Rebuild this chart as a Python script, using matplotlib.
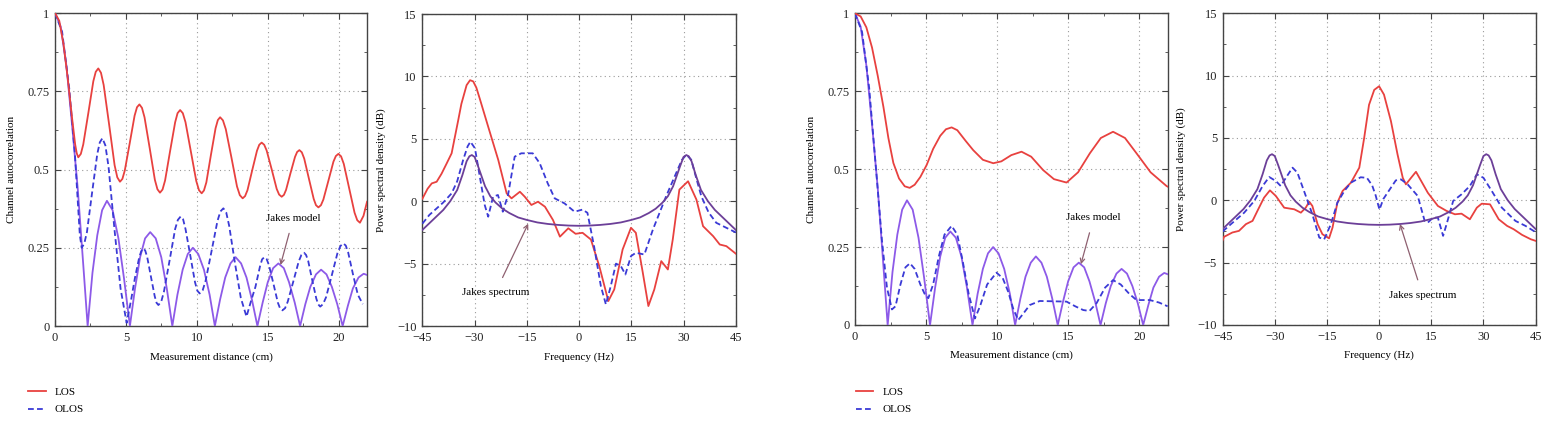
import matplotlib
matplotlib.use("Agg")
import matplotlib.pyplot as plt
from matplotlib.ticker import MultipleLocator
from matplotlib.lines import Line2D

plt.rcParams['font.family'] = ['Liberation Serif', 'DejaVu Serif']
plt.rcParams['font.size'] = 8

# Jakes model |J0| (autocorrelation), same curve in both autocorrelation panels
jakes_d = [0, 0.4, 0.8, 1.2, 1.6, 2.0, 2.3,
           2.64, 2.98, 3.32, 3.66, 4.06, 4.47, 4.87, 5.28,
           5.64, 6.0, 6.35, 6.71, 7.10, 7.49, 7.88, 8.27,
           8.63, 9.0, 9.36, 9.72, 10.1, 10.5, 10.9, 11.27,
           11.64, 12.0, 12.37, 12.73, 13.12, 13.5, 13.88, 14.27,
           14.64, 15.0, 15.38, 15.75, 16.13, 16.5, 16.9, 17.28,
           17.65, 18.0, 18.4, 18.76, 19.14, 19.52, 19.9, 20.28,
           20.65, 21.0, 21.4, 21.76, 22.0]
jakes_r = [1.0, 0.957, 0.833, 0.643, 0.44, 0.19, 0.0,
           0.17, 0.29, 0.37, 0.40, 0.37, 0.28, 0.15, 0.0,
           0.12, 0.22, 0.28, 0.30, 0.28, 0.22, 0.12, 0.0,
           0.10, 0.18, 0.23, 0.25, 0.23, 0.18, 0.10, 0.0,
           0.085, 0.155, 0.20, 0.22, 0.20, 0.155, 0.085, 0.0,
           0.075, 0.14, 0.185, 0.20, 0.185, 0.14, 0.075, 0.0,
           0.07, 0.125, 0.165, 0.18, 0.165, 0.125, 0.07, 0.0,
           0.065, 0.12, 0.155, 0.167, 0.163]

# Jakes spectrum (dB), same curve in both spectrum panels
jakes_f = [-45, -42, -39, -37, -35, -33.5, -32.3, -31.5, -30.8, -30, -29, -28, -27, -25.5, -24,
           -22, -20, -17.5, -15, -12, -9, -6, -3, 0, 3, 6, 9, 12, 15, 17.5, 20, 22,
           24, 25.5, 27, 28, 29, 30, 30.8, 31.5, 32.3, 33.5, 35, 37, 39, 42, 45]
jakes_s = [-2.3, -1.5, -0.7, 0.0, 0.9, 2.1, 3.2, 3.6, 3.7, 3.55, 2.8, 2.0, 1.2, 0.4, -0.1,
           -0.6, -0.95, -1.3, -1.5, -1.7, -1.82, -1.9, -1.95, -1.97, -1.95, -1.9, -1.82, -1.7, -1.5, -1.3, -0.95, -0.6,
           -0.1, 0.4, 1.2, 2.0, 2.8, 3.55, 3.7, 3.6, 3.2, 2.1, 0.9, 0.0, -0.7, -1.5, -2.3]

# scenario A: autocorrelation
a_los_d = [0, 0.3, 0.6, 0.9, 1.2, 1.42, 1.53, 1.64,
           1.82, 1.99, 2.35, 2.70, 2.87, 3.05, 3.24, 3.43, 3.82, 4.20, 4.39, 4.58,
           4.75, 4.92, 5.27, 5.61, 5.78, 5.95, 6.13, 6.31, 6.68, 7.04, 7.22, 7.4,
           7.58, 7.76, 8.11, 8.47, 8.64, 8.82, 9.01, 9.2, 9.58, 9.96, 10.15, 10.34,
           10.5, 10.67, 10.99, 11.32, 11.48, 11.64, 11.84, 12.04, 12.44, 12.83, 13.03, 13.23,
           13.4, 13.57, 13.9, 14.24, 14.4, 14.57, 14.75, 14.92, 15.28, 15.63, 15.8, 15.98,
           16.14, 16.29, 16.6, 16.92, 17.07, 17.23, 17.4, 17.57, 17.9, 18.24, 18.4, 18.57,
           18.75, 18.92, 19.28, 19.63, 19.8, 19.98, 20.17, 20.36, 20.74, 21.12, 21.31, 21.5,
           21.75, 22.0]
a_los_r = [1.0, 0.975, 0.9, 0.79, 0.665, 0.58, 0.552, 0.539,
           0.550, 0.580, 0.681, 0.782, 0.812, 0.823, 0.809, 0.770, 0.642, 0.514, 0.475, 0.461,
           0.470, 0.497, 0.585, 0.672, 0.699, 0.708, 0.697, 0.667, 0.567, 0.467, 0.437, 0.426,
           0.436, 0.465, 0.558, 0.651, 0.680, 0.69, 0.680, 0.651, 0.557, 0.463, 0.434, 0.424,
           0.433, 0.459, 0.546, 0.632, 0.658, 0.667, 0.657, 0.629, 0.538, 0.446, 0.418, 0.408,
           0.415, 0.434, 0.497, 0.560, 0.579, 0.586, 0.579, 0.561, 0.500, 0.438, 0.420, 0.413,
           0.419, 0.435, 0.488, 0.540, 0.556, 0.562, 0.555, 0.535, 0.471, 0.406, 0.386, 0.379,
           0.386, 0.404, 0.465, 0.525, 0.543, 0.55, 0.542, 0.518, 0.44, 0.362, 0.338, 0.33,
           0.352, 0.397]
a_olos_d = [0, 0.5, 1.0, 1.4, 1.75, 1.88, 2.06, 2.25, 2.61, 2.98, 3.16, 3.34, 3.55, 3.77, 4.2, 4.62, 5.05,
            5.35, 5.64, 5.94, 6.08, 6.23, 6.36, 6.5, 6.76, 7.03, 7.16, 7.29, 7.49, 7.68, 8.08, 8.47, 8.66, 8.86,
            9.03, 9.2, 9.53, 9.87, 10.03, 10.2, 10.41, 10.62, 11.04, 11.45, 11.66, 11.87, 12.07, 12.28, 12.69,
            13.1, 13.5, 13.82, 14.13, 14.45, 14.6, 14.76, 14.92, 15.08, 15.4, 15.71, 15.87, 16.03, 16.22,
            16.41, 16.8, 17.18, 17.37, 17.56, 17.7, 17.85, 18.13, 18.42, 18.56, 18.7, 18.9, 19.11, 19.52,
            19.92, 20.13, 20.33, 20.5, 20.67, 21.0, 21.35, 21.7]
a_olos_r = [1.0, 0.94, 0.76, 0.55, 0.29, 0.25, 0.263, 0.30, 0.425, 0.55, 0.587, 0.60, 0.577, 0.51, 0.305, 0.12, 0.01,
            0.08, 0.155, 0.22, 0.239, 0.248, 0.241, 0.22, 0.158, 0.095, 0.074, 0.067, 0.078, 0.11, 0.21, 0.31, 0.339, 0.35,
            0.341, 0.31, 0.227, 0.14, 0.113, 0.104, 0.114, 0.145, 0.24, 0.335, 0.366, 0.376, 0.363, 0.32, 0.20,
            0.09, 0.03, 0.08, 0.125, 0.19, 0.213, 0.22, 0.214, 0.195, 0.135, 0.075, 0.056, 0.05, 0.057,
            0.078, 0.142, 0.206, 0.227, 0.234, 0.227, 0.208, 0.148, 0.088, 0.069, 0.062, 0.07, 0.092, 0.163,
            0.234, 0.256, 0.264, 0.257, 0.235, 0.167, 0.10, 0.07]

# scenario A: spectrum
a_los_f = [-45, -43.5, -42.3, -40.9, -39.5, -38.0, -36.6, -34.7, -33.8, -32.3, -31.3, -30.4, -29.5,
           -28.5, -26.1, -23.2, -20.8, -19.4, -17.0, -15.6, -13.7, -11.8, -9.8, -7.5, -5.5, -3.1,
           -1.0, 1.0, 3.4, 5.8, 8.4, 10.1, 12.5, 14.9, 16.3, 18.3, 19.9, 21.6, 23.6, 25.5, 26.9,
           28.8, 31.3, 33.7, 35.6, 38.5, 40.4, 42.3, 45]
a_los_s = [0.2, 1.0, 1.43, 1.56, 2.2, 3.04, 3.84, 6.5, 7.8, 9.3, 9.7, 9.6, 9.1,
           8.2, 5.97, 3.3, 0.63, 0.23, 0.76, 0.36, -0.3, -0.04, -0.44, -1.5, -2.84, -2.17,
           -2.61, -2.53, -3.07, -5.2, -8.0, -7.07, -3.87, -2.13, -2.53, -5.73, -8.4, -7.07, -4.8, -5.47, -3.07,
           0.93, 1.6, 0.13, -2.0, -2.8, -3.47, -3.6, -4.2]
a_olos_f = [-45, -43, -41.4, -39, -36.6, -35, -33.3, -32, -31.2, -29.9, -28.5, -27.1, -26.1, -24.7,
            -23.3, -21.9, -20.4, -18.5, -16.6, -13.3, -11.3, -9.0, -7.0, -4.2, -1.3, 1.0, 2.4,
            4.3, 6.25, 7.7, 9.1, 10.6, 12.0, 13.3, 14.9, 16.3, 18.75, 21.2, 25.0, 27.9, 29.5,
            30.8, 32.2, 33.6, 35.1, 37.2, 39.4, 42.3, 45]
a_olos_s = [-1.8, -1.1, -0.7, -0.1, 0.63, 1.6, 3.3, 4.4, 4.77, 4.24, 1.96, -0.3, -1.24, 0.36,
            0.5, -0.84, 0.5, 3.57, 3.84, 3.84, 3.04, 1.43, 0.23, -0.17, -0.84, -0.67, -0.93,
            -3.6, -6.8, -8.27, -6.8, -5.0, -5.2, -5.87, -4.4, -4.13, -4.27, -2.27, 0.4, 2.27, 3.3,
            3.73, 3.33, 1.9, 0.4, -0.9, -1.73, -2.13, -2.5]

# scenario B: autocorrelation
b_los_d = [0, 0.4, 0.8, 1.2, 1.6, 2.0, 2.35, 2.7, 3.1, 3.5, 3.85, 4.2, 4.6, 5.04, 5.5, 6.0,
           6.4, 6.8, 7.2, 7.8, 8.32, 9.0, 9.73, 10.3, 11.0, 11.72, 12.4, 13.24, 14.0, 14.89,
           15.7, 16.53, 17.3, 18.16, 19.0, 19.81, 20.8, 21.92, 22.0]
b_los_r = [1.0, 0.99, 0.955, 0.89, 0.80, 0.70, 0.60, 0.52, 0.47, 0.445, 0.44, 0.45, 0.475, 0.513, 0.565, 0.607,
           0.628, 0.634, 0.625, 0.59, 0.561, 0.53, 0.519, 0.525, 0.545, 0.556, 0.54, 0.497, 0.468, 0.457,
           0.49, 0.551, 0.60, 0.62, 0.60, 0.551, 0.49, 0.446, 0.444]
b_olos_d = [0, 0.5, 1.0, 1.5, 1.9, 2.25, 2.6, 2.85, 3.2, 3.55, 3.87, 4.2, 4.6, 4.9, 5.16, 5.5,
            5.9, 6.3, 6.8, 7.2, 7.6, 8.0, 8.44, 8.8, 9.3, 9.96, 10.4, 10.78, 11.15, 11.49, 11.9,
            12.3, 13.0, 14.0, 14.89, 15.5, 16.06, 16.5, 17.0, 17.6, 18.16, 18.7, 19.3, 19.81,
            20.75, 21.4, 22.0]
b_olos_r = [1.0, 0.94, 0.76, 0.49, 0.27, 0.12, 0.05, 0.06, 0.13, 0.185, 0.198, 0.18, 0.13, 0.10, 0.086, 0.13,
            0.22, 0.29, 0.318, 0.29, 0.20, 0.10, 0.021, 0.06, 0.13, 0.168, 0.15, 0.107, 0.05, 0.016, 0.04,
            0.064, 0.077, 0.076, 0.075, 0.06, 0.048, 0.045, 0.07, 0.12, 0.144, 0.13, 0.10, 0.08,
            0.08, 0.072, 0.06]

# scenario B: spectrum
b_los_f = [-45, -44.6, -42.2, -40.3, -38.3, -36.4, -35.0, -33.1, -31.4, -29.7, -27.3, -24.4, -22.5,
           -21.1, -20.1, -19.2, -17.7, -16.3, -14.4, -13.4, -12.0, -10.5, -8.1, -5.7, -4.3, -2.9,
           -1.4, 0.0, 1.4, 3.4, 5.3, 6.8, 7.7, 9.2, 10.6, 12.1, 14.0, 16.9, 19.4, 21.8, 23.7,
           26.1, 28.1, 29.5, 31.9, 34.4, 36.8, 38.7, 41.1, 43.6, 45]
b_los_s = [-3.2, -2.93, -2.58, -2.45, -1.91, -1.65, -0.85, 0.21, 0.8, 0.35, -0.59, -0.72, -0.99,
           -0.59, -0.11, -0.45, -1.91, -2.72, -3.05, -2.19, -0.19, 0.75, 1.42, 2.62, 5.0, 7.66,
           8.86, 9.15, 8.48, 6.35, 3.68, 1.81, 1.28, 1.81, 2.29, 1.55, 0.61, -0.45, -0.85, -1.12, -1.07,
           -1.52, -0.59, -0.27, -0.32, -1.52, -2.05, -2.32, -2.77, -3.12, -3.25]
b_olos_f = [-45, -42.7, -38.8, -35.9, -33.5, -31.6, -29.7, -28.3, -26.8, -24.9, -23.5, -21.6, -19.2,
            -17.2, -15.8, -13.9, -12.0, -10.0, -8.1, -5.3, -3.5, -2.0, -1.0, 0.1, 1.2, 2.4, 4.8,
            6.3, 8.2, 11.1, 13.1, 14.0, 15.5, 16.9, 18.4, 19.4, 21.3, 23.7, 26.1, 28.1, 30.0,
            32.4, 35.3, 39.2, 42.1, 45]
b_olos_s = [-2.5, -1.93, -0.99, -0.05, 1.15, 1.87, 1.55, 1.15, 1.81, 2.62, 2.22, 0.75, -1.12,
            -2.99, -3.13, -1.93, -0.19, 0.75, 1.42, 1.85, 1.8, 1.2, 0.4, -0.75, 0.1, 0.6, 1.6,
            1.68, 1.28, 0.35, -1.65, -1.79, -1.39, -1.39, -2.85, -1.92, -0.05, 0.48, 1.15, 2.08, 1.81,
            0.75, -0.59, -1.65, -2.05, -2.55]

RED = '#e8413f'
BLUE = '#3a3ad6'
VIOLET = '#8d5ae8'
PURPLE = '#6c3f98'
ARROW = '#8e6070'
SPINE = '#444444'
DASH = (0, (3.2, 1.8))


def style_axes(ax, autocorr):
    for s in ax.spines.values():
        s.set_color(SPINE)
        s.set_linewidth(1.0)
    ax.tick_params(which='both', direction='in', top=True, right=True, colors=SPINE,
                   labelcolor='#222222', labelsize=9, pad=4)
    ax.tick_params(which='major', length=4)
    ax.tick_params(which='minor', length=2.5)
    ax.grid(True, which='major', color='#9a9a9a', linestyle=(0, (1, 3)), linewidth=0.8)
    if autocorr:
        ax.set_xlim(0, 22)
        ax.set_ylim(0, 1)
        ax.xaxis.set_major_locator(MultipleLocator(5))
        ax.xaxis.set_minor_locator(MultipleLocator(2.5))
        ax.set_yticks([0, 0.25, 0.5, 0.75, 1])
        ax.set_yticklabels(['0', '0.25', '0.5', '0.75', '1'])
        ax.yaxis.set_minor_locator(MultipleLocator(0.125))
        ax.set_xlabel('Measurement distance (cm)', labelpad=6)
        ax.set_ylabel('Channel autocorrelation', labelpad=8)
    else:
        ax.set_xlim(-45, 45)
        ax.set_ylim(-10, 15)
        ax.xaxis.set_major_locator(MultipleLocator(15))
        ax.yaxis.set_major_locator(MultipleLocator(5))
        ax.yaxis.set_minor_locator(MultipleLocator(2.5))
        ax.set_xlabel('Frequency (Hz)', labelpad=6)
        ax.set_ylabel('Power spectral density (dB)', labelpad=8)


fig = plt.figure(figsize=(15.5, 4.24), dpi=100)
ax1 = fig.add_axes([0.0355, 0.2311, 0.2013, 0.7382])
ax2 = fig.add_axes([0.2725, 0.2311, 0.2022, 0.7358])
ax3 = fig.add_axes([0.5516, 0.2335, 0.2017, 0.7351])
ax4 = fig.add_axes([0.7888, 0.2335, 0.2019, 0.7351])

for ax, los_x, los_y, olos_x, olos_y in [(ax1, a_los_d, a_los_r, a_olos_d, a_olos_r),
                                         (ax3, b_los_d, b_los_r, b_olos_d, b_olos_r)]:
    style_axes(ax, True)
    ax.plot(jakes_d, jakes_r, color=VIOLET, lw=1.3, zorder=3)
    ax.plot(olos_x, olos_y, color=BLUE, lw=1.3, linestyle=DASH, zorder=4)
    ax.plot(los_x, los_y, color=RED, lw=1.3, zorder=5)
    ax.annotate('Jakes model', xy=(15.9, 0.195), xytext=(16.8, 0.345), ha='center', va='center',
                fontsize=8, arrowprops=dict(arrowstyle='->', color=ARROW, lw=0.9,
                                            shrinkA=6, shrinkB=0))

for ax, los_x, los_y, olos_x, olos_y, ann in [(ax2, a_los_f, a_los_s, a_olos_f, a_olos_s,
                                               ((-14.6, -1.8), (-24.0, -7.3))),
                                              (ax4, b_los_f, b_los_s, b_olos_f, b_olos_s,
                                               ((6.0, -1.9), (12.5, -7.6)))]:
    style_axes(ax, False)
    ax.plot(los_x, los_y, color=RED, lw=1.3, zorder=3)
    ax.plot(olos_x, olos_y, color=BLUE, lw=1.3, linestyle=DASH, zorder=4)
    ax.plot(jakes_f, jakes_s, color=PURPLE, lw=1.3, zorder=5)
    ax.annotate('Jakes spectrum', xy=ann[0], xytext=ann[1], ha='center', va='center',
                fontsize=8, arrowprops=dict(arrowstyle='->', color=ARROW, lw=0.9,
                                            shrinkA=6, shrinkB=0))

handles = [Line2D([], [], color=RED, lw=1.3),
           Line2D([], [], color=BLUE, lw=1.3, linestyle=DASH)]
for xpos in [0.018, 0.552]:
    fig.legend(handles, ['LOS', 'OLOS'], loc='upper left', bbox_to_anchor=(xpos, 0.087),
               frameon=False, fontsize=8, handlelength=1.6, handletextpad=0.8,
               labelspacing=0.7, borderpad=0, borderaxespad=0)

fig.savefig('out.png', dpi=100)
